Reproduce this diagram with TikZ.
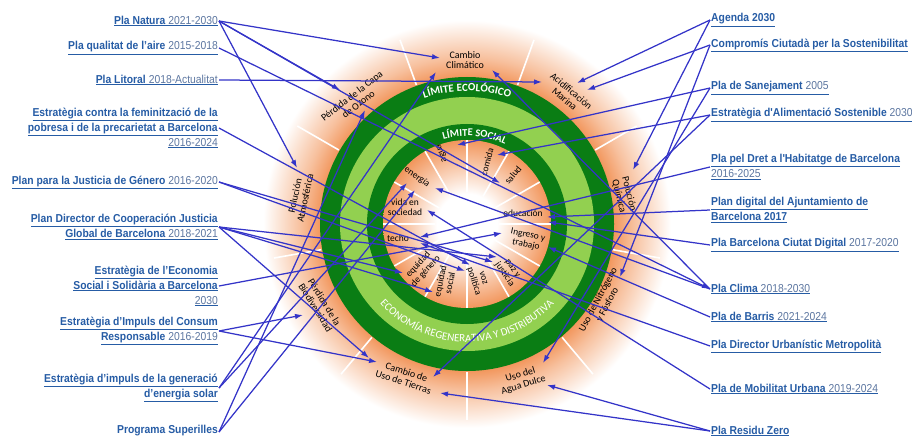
\documentclass[tikz,border=0pt]{standalone}
\usepackage{fontspec}
\usepackage{xcolor}
\usetikzlibrary{arrows.meta, decorations.text}
\newfontfamily\planfont[FakeStretch=0.9]{Liberation Sans}
\newfontfamily\labfont{Carlito}
\definecolor{planblue}{RGB}{38,92,165}
\definecolor{planyr}{RGB}{92,118,160}
\definecolor{linkblue}{RGB}{52,52,200}
\definecolor{ringdark}{RGB}{10,125,20}
\definecolor{ringlight}{RGB}{146,208,80}
\definecolor{glow}{RGB}{242,150,92}
\pgfdeclareradialshading{outerglow}{\pgfpoint{0bp}{0bp}}{color(0bp)=(glow); color(17.6bp)=(glow); color(20bp)=(glow!60); color(24.5bp)=(white); color(50bp)=(white)}
\pgfdeclareradialshading{innerglow}{\pgfpoint{0bp}{0bp}}{color(0bp)=(white); color(9bp)=(white); color(25bp)=(glow); color(50bp)=(glow)}
\newcommand{\plname}[1]{\underline{\textbf{#1}}}
\newcommand{\plyear}[2]{\underline{\textbf{#1} \textcolor{planyr}{#2}}}
\newcommand{\plonly}[1]{\underline{\textcolor{planyr}{#1}}}

\begin{document}
\begin{tikzpicture}[x=1pt, y=-1pt,
planL/.style={anchor=east, align=right, text=planblue, inner sep=1pt,
  font=\planfont\fontsize{11.5}{15}\selectfont},
planR/.style={anchor=west, align=left, text=planblue, inner sep=1pt,
  font=\planfont\fontsize{11.5}{15}\selectfont},
zone/.style={align=center, inner sep=0pt, text=black,
  font=\labfont\fontsize{10}{10.5}\selectfont},
need/.style={align=center, inner sep=0pt, text=black,
  font=\labfont\fontsize{9.5}{10}\selectfont},
link/.style={->, >={Latex[length=8pt,width=5.5pt]}, draw=linkblue, line width=1.25pt}]

\useasboundingbox (0,0) rectangle (912,438);
\coordinate (cen) at (467,224);

\shade[shading=outerglow] (cen) circle[radius=208];
\foreach \a in {110,70,...,-210}
\draw[white, line width=1.6pt] (cen) ++(-\a:148) -- ++(-\a:48);
\fill[ringdark] (cen) circle[radius=147];
\fill[ringlight] (cen) circle[radius=127];
\fill[ringdark] (cen) circle[radius=100];
\shade[shading=innerglow] (cen) circle[radius=84];
\foreach \a in {0,30,...,330}
\draw[white, line width=1.6pt] (cen) ++(\a:32) -- ++(\a:52);

\path[decorate, decoration={text along path, text align=center, text color=white,
  text={|\labfont\bfseries\fontsize{11}{11}\selectfont|LÍMITE ECOLÓGICO}}]
(cen) ++(-170:133) arc[start angle=-170, end angle=-10, radius=133];
\path[decorate, decoration={text along path, text align=center, text color=white,
  text={|\labfont\bfseries\fontsize{10.5}{10.5}\selectfont|LÍMITE SOCIAL}}]
(cen) ++(-170:88) arc[start angle=-170, end angle=0, radius=88];
\path[decorate, decoration={text along path, text align=center, text color=white,
  text={|\labfont\fontsize{11}{11}\selectfont|ECONOMÍA REGENERATIVA Y DISTRIBUTIVA}}]
(cen) ++(-180:118) arc[start angle=-180, end angle=-360, radius=118];

\node[zone] (clim) at (465,60) {Cambio\\Climático};
\node[zone, rotate=-40] (acid) at (568,95) {Acidificación\\Marina};
\node[zone, rotate=-76] (quim) at (624,195) {Polución\\Química};
\node[zone, rotate=62] (nitro) at (603,302) {Uso de Nitrógeno\\y Fósforo};
\node[zone, rotate=17] (dulce) at (522,380) {Uso del\\Agua Dulce};
\node[zone, rotate=-18] (tierra) at (405,377) {Cambio de\\Uso de Tierras};
\node[zone, rotate=-58] (biod) at (320,305) {Pérdida de la\\Biodiversidad};
\node[zone, rotate=78] (atmos) at (300,197) {Polución\\Atmosférica};
\node[zone, rotate=38] (ozono) at (355,100) {Pérdida de la Capa\\de Ozono};

\node[need, rotate=110] (nagua) at (442,153) {agua};
\node[need, rotate=75] (ncomida) at (487,162) {comida};
\node[need, rotate=50] (nsalud) at (513,175) {salud};
\node[need] (neduc) at (523,213) {educación};
\node[need, rotate=-12] (ningreso) at (527,240) {Ingreso y\\trabajo};
\node[need, rotate=-55] (npaz) at (508,272) {paz y\\justicia};
\node[need, rotate=-72] (nvoz) at (478,280) {voz\\política};
\node[need, rotate=78] (nsocial) at (445,282) {equidad\\social};
\node[need, rotate=48] (ngenero) at (422,268) {equidad\\de género};
\node[need] (ntecho) at (398,238) {techo};
\node[need] (nvida) at (405,207) {vida en\\sociedad};
\node[need, rotate=-35] (nenergia) at (417,177) {energía};

\node[planL] (natura) at (219,21) {\plyear{Pla Natura}{2021-2030}};
\node[planL] (aire) at (219,48) {\plyear{Pla qualitat de l’aire}{2015-2018}};
\node[planL] (litoral) at (219,80) {\plyear{Pla Litoral}{2018-Actualitat}};
\node[planL] (femin) at (219,128) {\plname{Estratègia contra la feminització de la}\\
  \plname{pobresa i de la precarietat a Barcelona}\\\plonly{2016-2024}};
\node[planL] (genero) at (219,182) {\plyear{Plan para la Justicia de Género}{2016-2020}};
\node[planL] (coop) at (219,227) {\plname{Plan Director de Cooperación Justicia}\\
  \plyear{Global de Barcelona}{2018-2021}};
\node[planL] (ecosoc) at (219,286) {\plname{Estratègia de l’Economia}\\
  \plname{Social i Solidària a Barcelona}\\\plonly{2030}};
\node[planL] (consum) at (219,331) {\plname{Estratègia d’Impuls del Consum}\\
  \plyear{Responsable}{2016-2019}};
\node[planL] (solar) at (219,388) {\plname{Estratègia d’impuls de la generació}\\
  \plname{d’energia solar}};
\node[planL] (superilles) at (219,432) {\plname{Programa Superilles}};

\node[planR] (agenda) at (710,20) {\plname{Agenda 2030}};
\node[planR] (comprom) at (710,45) {\plname{Compromís Ciutadà per la Sostenibilitat}};
\node[planR] (sanej) at (710,88) {\plyear{Pla de Sanejament}{2005}};
\node[planR] (alim) at (710,115) {\plyear{Estratègia d'Alimentació Sostenible}{2030}};
\node[planR] (habit) at (710,167) {\plname{Pla pel Dret a l'Habitatge de Barcelona}\\
  \plonly{2016-2025}};
\node[planR] (digital) at (710,210) {\plname{Plan digital del Ajuntamiento de}\\
  \plname{Barcelona 2017}};
\node[planR] (ciutdig) at (710,245) {\plyear{Pla Barcelona Ciutat Digital}{2017-2020}};
\node[planR] (clima) at (710,289) {\plyear{Pla Clima}{2018-2030}};
\node[planR] (barris) at (710,317) {\plyear{Pla de Barris}{2021-2024}};
\node[planR] (urban) at (710,346) {\plname{Pla Director Urbanístic Metropolità}};
\node[planR] (mobil) at (710,389) {\plyear{Pla de Mobilitat Urbana}{2019-2024}};
\node[planR] (residu) at (710,431) {\plname{Pla Residu Zero}};

\coordinate (ccA) at (440,58);
\coordinate (ccB) at (436,72);
\coordinate (ccC) at (492,70);
\coordinate (ozA) at (340,90);
\coordinate (ozB) at (365,110);
\coordinate (atm) at (297,168);
\coordinate (bio) at (303,315);
\coordinate (tiA) at (377,362);
\coordinate (tiB) at (369,358);
\coordinate (tiC) at (433,377);
\coordinate (tiD) at (440,393);
\coordinate (adA) at (543,363);
\coordinate (adB) at (547,385);
\coordinate (niA) at (620,277);
\coordinate (quA) at (633,170);
\coordinate (acA) at (542,82);
\coordinate (acB) at (577,83);
\coordinate (acC) at (587,90);
\coordinate (agua) at (457,145);
\coordinate (comida) at (497,155);
\coordinate (salud) at (500,183);
\coordinate (enA) at (407,183);
\coordinate (enB) at (415,190);
\coordinate (enC) at (435,188);
\coordinate (vida) at (427,210);
\coordinate (edA) at (547,217);
\coordinate (edB) at (548,222);
\coordinate (inA) at (502,233);
\coordinate (inB) at (548,247);
\coordinate (teA) at (420,237);
\coordinate (teB) at (420,243);
\coordinate (egen) at (403,273);
\coordinate (esoc) at (433,292);
\coordinate (vozA) at (470,265);
\coordinate (vozB) at (465,271);
\coordinate (pazA) at (493,262);
\coordinate (pazB) at (497,257);

\foreach \s/\t in {natura/ccA, natura/ozA, natura/atm, natura/salud, litoral/acA,
  femin/vozA, genero/pazA, genero/vozB, coop/egen, coop/esoc, coop/tiB, coop/pazB,
  ecosoc/inA, consum/bio, consum/tiA, solar/enA, solar/ccB, superilles/enB, superilles/ozB}
\draw[link] (\s.east) -- (\t);
\foreach \s/\t in {agenda/acB, agenda/quA, comprom/acC, comprom/niA, sanej/agua, sanej/adA,
  alim/comida, alim/tiC, habit/teA, digital/edA, ciutdig/edB, clima/ccC, clima/enC,
  barris/inB, urban/teB, mobil/vida, residu/adB, residu/tiD}
\draw[link] (\s.west) -- (\t);
\draw[link] (aire.east) -- (clima.west);

\end{tikzpicture}
\end{document}
